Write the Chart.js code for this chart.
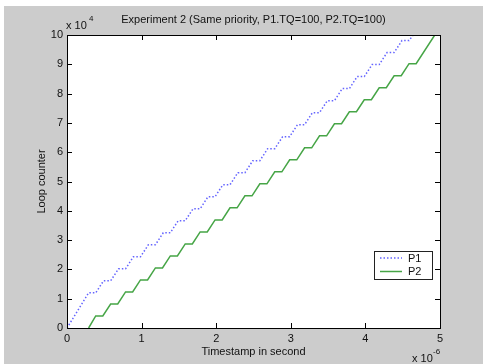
<!DOCTYPE html>
<html>
<head>
<meta charset="utf-8">
<script src="https://cdn.jsdelivr.net/npm/chart.js@4"></script>
<style>
  html, body { margin: 0; padding: 0; background: #fff; }
  canvas { display: block; }
</style>
</head>
<body>
<canvas id="graphique" width="483" height="364"></canvas>
<script>
// Temps en unités de 1e-6 s, compteur en unités de 1e4
const p1Time = [0, 0.29, 0.385, 0.49, 0.585, 0.69, 0.785, 0.89, 0.985, 1.09, 1.185, 1.29, 1.385, 1.49, 1.585,
    1.69, 1.785, 1.89, 1.985, 2.09, 2.185, 2.29, 2.385, 2.49, 2.585, 2.69, 2.785, 2.89, 2.985, 3.09, 3.185,
    3.29, 3.385, 3.49, 3.585, 3.69, 3.785, 3.89, 3.985, 4.09, 4.185, 4.29, 4.385, 4.49, 4.585, 4.64];
const p1Count = [0, 1.20, 1.20, 1.61, 1.61, 2.02, 2.02, 2.43, 2.43, 2.84, 2.84, 3.25, 3.25, 3.66, 3.66,
    4.07, 4.07, 4.48, 4.48, 4.89, 4.89, 5.30, 5.30, 5.71, 5.71, 6.12, 6.12, 6.53, 6.53, 6.94, 6.94,
    7.35, 7.35, 7.76, 7.76, 8.17, 8.17, 8.58, 8.58, 8.99, 8.99, 9.40, 9.40, 9.81, 9.81, 10];

const p2Time = [0.29, 0.385, 0.48, 0.585, 0.68, 0.785, 0.88, 0.985, 1.08, 1.185, 1.28, 1.385, 1.48, 1.585, 1.68,
    1.785, 1.88, 1.985, 2.08, 2.185, 2.28, 2.385, 2.48, 2.585, 2.68, 2.785, 2.88, 2.985, 3.08, 3.185, 3.28,
    3.385, 3.48, 3.585, 3.68, 3.785, 3.88, 3.985, 4.08, 4.185, 4.28, 4.385, 4.48, 4.585, 4.68, 4.93];
const p2Count = [0, 0.41, 0.41, 0.82, 0.82, 1.23, 1.23, 1.64, 1.64, 2.05, 2.05, 2.46, 2.46, 2.87, 2.87,
    3.28, 3.28, 3.69, 3.69, 4.10, 4.10, 4.51, 4.51, 4.92, 4.92, 5.33, 5.33, 5.74, 5.74, 6.15, 6.15,
    6.56, 6.56, 6.97, 6.97, 7.38, 7.38, 7.79, 7.79, 8.20, 8.20, 8.61, 8.61, 9.02, 9.02, 10];

const xTicks = [0, 1, 2, 3, 4, 5];
const yTicks = [0, 1, 2, 3, 4, 5, 6, 7, 8, 9, 10];
const seriesLabels = ["P1", "P2"];

const FONT = "'Liberation Sans', Arial, sans-serif";
const TEXT = "#111";

const toPoints = (xs, ys) => xs.map((x, i) => ({ x: x, y: ys[i] }));

// Fond gris, boîte, graduations internes, titre, exposants et légende façon MATLAB
const matlabLook = {
    id: "matlabLook",
    beforeDraw(chart) {
        const { ctx, chartArea: a } = chart;
        ctx.save();
        ctx.fillStyle = "#fff";
        ctx.fillRect(0, 0, chart.width, chart.height);
        ctx.fillStyle = "#cccccc";
        ctx.fillRect(4, 6, chart.width - 4, chart.height - 6);
        ctx.fillStyle = "#fff";
        ctx.fillRect(a.left, a.top, a.right - a.left, a.bottom - a.top);
        ctx.restore();
    },
    afterDraw(chart) {
        const { ctx, chartArea: a } = chart;
        const xs = chart.scales.x, ys = chart.scales.y;
        ctx.save();
        ctx.strokeStyle = "#000";
        ctx.lineWidth = 1;
        ctx.beginPath();
        xTicks.forEach(v => {
            const px = Math.round(xs.getPixelForValue(v)) + 0.5;
            ctx.moveTo(px, a.bottom); ctx.lineTo(px, a.bottom - 5);
            ctx.moveTo(px, a.top); ctx.lineTo(px, a.top + 5);
        });
        yTicks.forEach(v => {
            const py = Math.round(ys.getPixelForValue(v)) + 0.5;
            ctx.moveTo(a.left, py); ctx.lineTo(a.left + 5, py);
            ctx.moveTo(a.right, py); ctx.lineTo(a.right - 5, py);
        });
        ctx.stroke();
        ctx.strokeRect(Math.round(a.left) + 0.5, Math.round(a.top) + 0.5,
            Math.round(a.right - a.left), Math.round(a.bottom - a.top));

        // titre
        ctx.fillStyle = TEXT;
        ctx.font = "11px " + FONT;
        ctx.textAlign = "center";
        ctx.textBaseline = "middle";
        ctx.fillText("Experiment 2 (Same priority, P1.TQ=100, P2.TQ=100)", (a.left + a.right) / 2, 20);

        // multiplicateurs
        ctx.textAlign = "left";
        ctx.fillText("x 10", a.left - 1, 26);
        ctx.fillText("x 10", 412, 359);
        ctx.font = "8px " + FONT;
        ctx.fillText("4", 89, 19);
        ctx.fillText("-6", 433, 352);

        // légende
        const lx = 374, ly = 251, lw = 58, lh = 28;
        ctx.fillStyle = "#fff";
        ctx.fillRect(lx, ly, lw, lh);
        ctx.strokeStyle = "#222";
        ctx.strokeRect(lx + 0.5, ly + 0.5, lw, lh);
        ctx.font = "11px " + FONT;
        chart.data.datasets.forEach((ds, i) => {
            const y = ly + 7 + i * 13.5;
            ctx.strokeStyle = ds.borderColor;
            ctx.lineWidth = ds.borderWidth;
            ctx.setLineDash(ds.borderDash || []);
            ctx.beginPath();
            ctx.moveTo(380, y); ctx.lineTo(402, y);
            ctx.stroke();
            ctx.setLineDash([]);
            ctx.fillStyle = TEXT;
            ctx.fillText(ds.label, 408, y + 0.5);
        });
        ctx.restore();
    }
};

new Chart(document.getElementById("graphique").getContext("2d"), {
    type: "line",
    data: {
        datasets: [{
            label: seriesLabels[0],
            data: toPoints(p1Time, p1Count),
            borderColor: "#6464ff",
            borderWidth: 1.5,
            borderDash: [1.5, 2],
            pointRadius: 0,
            tension: 0
        }, {
            label: seriesLabels[1],
            data: toPoints(p2Time, p2Count),
            borderColor: "#46a546",
            borderWidth: 1.5,
            pointRadius: 0,
            tension: 0
        }]
    },
    options: {
        responsive: false,
        animation: false,
        devicePixelRatio: 1,
        layout: { padding: { top: 35, right: 43, left: 0, bottom: 0 } },
        plugins: {
            legend: { display: false },
            tooltip: { enabled: false }
        },
        scales: {
            x: {
                type: "linear",
                min: 0, max: 5,
                afterFit: s => { s.height = 36; },
                afterBuildTicks: s => { s.ticks = xTicks.map(v => ({ value: v })); },
                grid: { drawOnChartArea: false, drawTicks: false },
                border: { display: false },
                ticks: { padding: 4, color: TEXT, font: { family: FONT, size: 11 }, maxRotation: 0 },
                title: { display: true, text: "Timestamp in second", color: TEXT,
                    font: { family: FONT, size: 11 }, padding: { top: 0, bottom: 5 } }
            },
            y: {
                type: "linear",
                min: 0, max: 10,
                afterFit: s => { s.width = 67; },
                afterBuildTicks: s => { s.ticks = yTicks.map(v => ({ value: v })); },
                grid: { drawOnChartArea: false, drawTicks: false },
                border: { display: false },
                ticks: { padding: 4, color: TEXT, font: { family: FONT, size: 11 } },
                title: { display: true, text: "Loop counter", color: TEXT,
                    font: { family: FONT, size: 11 }, padding: { top: 35, bottom: 0 } }
            }
        }
    },
    plugins: [matlabLook]
});
</script>
</body>
</html>
